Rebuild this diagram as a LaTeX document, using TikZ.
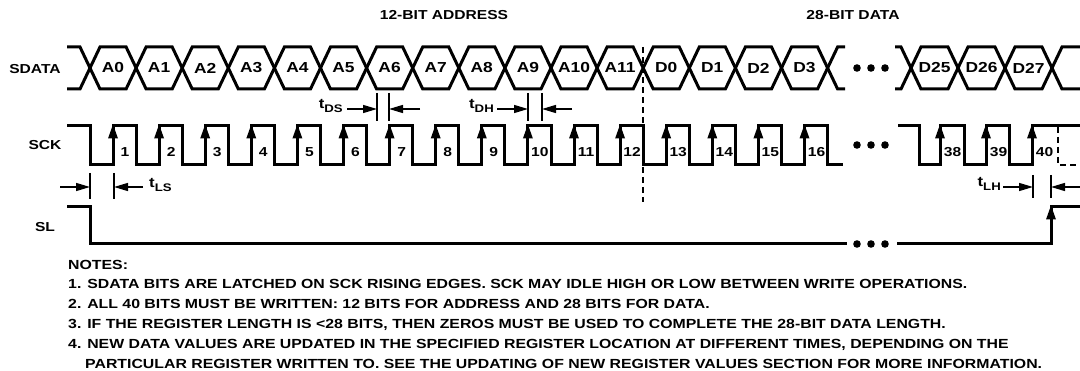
\documentclass[tikz,border=0pt]{standalone}
\usepackage{fontspec}
\setmainfont[FakeStretch=1.2]{Liberation Sans}
\usetikzlibrary{arrows.meta}
\tikzset{
  sig/.style={line width=3pt},
  tickline/.style={line width=1.3pt},
  dimarrow/.style={line width=1.3pt,-{Triangle[length=14pt,width=8pt]}},
  lbl/.style={font=\fontsize{13}{13}\selectfont\bfseries, inner sep=0pt},
  tlbl/.style={font=\fontsize{14}{14}\selectfont\bfseries, inner sep=0pt},
  bit/.style={font=\fontsize{14.5}{14.5}\selectfont\bfseries, inner sep=0pt},
  num/.style={font=\fontsize{13}{13}\selectfont\bfseries, inner sep=0pt},
  note/.style={font=\fontsize{13.2}{13.2}\selectfont\bfseries, inner sep=0pt, anchor=base west},
  blob/.style={fill=black},
  dashline/.style={line width=1.3pt, dash pattern=on 6pt off 4pt}
}
\newcommand\tsub[1]{t\raisebox{-4pt}{\fontsize{11}{11}\selectfont #1}}
\begin{document}
\begin{tikzpicture}[x=1pt,y=-1pt]
\useasboundingbox (0,0) rectangle (1080,371);

% headers and signal names
\node[lbl] (tA) at (444,15) {12-BIT ADDRESS};
\node[lbl] (tD) at (853,15) {28-BIT DATA};
\node[lbl] (lSDATA) at (35,69) {SDATA};
\node[lbl] (lSCK) at (45,145) {SCK};
\node[lbl] (lSL) at (45,227) {SL};

% SDATA, first part
\draw[sig] (67,47) \foreach \k in {0,...,16}{ -- ({80+46.1*\k},{isodd(\k)?89:47}) -- ({100+46.1*\k},{isodd(\k)?47:89}) } -- (845,89);
\draw[sig] (67,89) \foreach \k in {0,...,16}{ -- ({80+46.1*\k},{isodd(\k)?47:89}) -- ({100+46.1*\k},{isodd(\k)?89:47}) } -- (845,47);
% SDATA, last part
\draw[sig] (895,47) \foreach \j in {0,...,3}{ -- ({901+47*\j},{isodd(\j)?89:47}) -- ({921+47*\j},{isodd(\j)?47:89}) } -- (1080,47);
\draw[sig] (895,89) \foreach \j in {0,...,3}{ -- ({901+47*\j},{isodd(\j)?47:89}) -- ({921+47*\j},{isodd(\j)?89:47}) } -- (1080,89);

\foreach \t [count=\i from 0] in {A0,A1,A2,A3,A4,A5,A6,A7,A8,A9,A10,A11,D0,D1,D2,D3}
  \node[bit] (b\i) at ({113+46.1*\i},68) {\t};
\foreach \t [count=\i from 0] in {D25,D26,D27}
  \node[bit] (c\i) at ({934.5+47*\i},68) {\t};

% SCK, first part
\draw[sig] (67,126) \foreach \k in {0,...,15}{ -- ({90+46.1*\k},126) -- ({90+46.1*\k},165) -- ({113+46.1*\k},165) -- ({113+46.1*\k},126) } -- (827.6,126) -- (827.6,165) -- (843,165);
\foreach \k [evaluate=\k as \n using int(\k+1)] in {0,...,15}{
  \fill ({113+46.1*\k},124.5) -- ++(-5,14) -- ++(10,0) -- cycle;
  \node[num] (n\n) at ({125+46.1*\k},152) {\n};
}
% SCK, last part
\draw[sig] (898,126) -- (919,126) -- (919,165) -- (940,165) -- (940,126) -- (964,126) -- (964,165) -- (986,165) -- (986,126) -- (1009,126) -- (1009,165) -- (1032,165) -- (1032,126) -- (1080,126);
\draw[dashline] (1058,127) -- (1058,165) -- (1080,165);
\foreach \x/\n in {940/38,986/39,1032/40}{
  \fill (\x,124.5) -- ++(-5,14) -- ++(10,0) -- cycle;
  \node[num] (n\n) at (\x+12.5,152) {\n};
}

% SL
\draw[sig] (67,207) -- (90,207) -- (90,244) -- (847,244);
\draw[sig] (897,244) -- (1051,244) -- (1051,207) -- (1080,207);
\fill (1051,205.5) -- ++(-5,14) -- ++(10,0) -- cycle;

% ellipsis dots
\foreach \y in {68,145,244}
  \foreach \x in {857,871,885}
    \fill[blob] (\x,\y) circle (3.8);

% boundary between address and data
\coordinate (bt) at (643,47);
\coordinate (bb) at (643,202);
\draw[dashline] (bt) -- (bb);

% tDS
\draw[tickline] (377,93) -- (377,121);
\draw[tickline] (389,93) -- (389,121);
\draw[dimarrow] (347,109) -- (377,109);
\draw[dimarrow] (420,109) -- (389,109);
\node[tlbl, anchor=east] (tDS) at (343,106) {\tsub{DS}};
% tDH
\draw[tickline] (528,93) -- (528,121);
\draw[tickline] (542,93) -- (542,121);
\draw[dimarrow] (497,109) -- (528,109);
\draw[dimarrow] (572,109) -- (542,109);
\node[tlbl, anchor=east] (tDH) at (494,106) {\tsub{DH}};
% tLS
\draw[tickline] (90,173) -- (90,199);
\draw[tickline] (114,173) -- (114,199);
\draw[dimarrow] (60,187) -- (90,187);
\draw[dimarrow] (143,187) -- (114,187);
\node[tlbl, anchor=west] (tLS) at (149,185) {\tsub{LS}};
% tLH
\draw[tickline] (1033,175) -- (1033,198);
\draw[tickline] (1051,175) -- (1051,198);
\draw[dimarrow] (1003,187) -- (1033,187);
\draw[dimarrow] (1080,187) -- (1051,187);
\node[tlbl, anchor=east] (tLH) at (1001,184) {\tsub{LH}};

% notes
\node[note] (nt0) at (68,269.5) {NOTES:};
\node[note] (nt1) at (68,288.5) {1. SDATA BITS ARE LATCHED ON SCK RISING EDGES. SCK MAY IDLE HIGH OR LOW BETWEEN WRITE OPERATIONS.};
\node[note] (nt2) at (68,308.5) {2. ALL 40 BITS MUST BE WRITTEN: 12 BITS FOR ADDRESS AND 28 BITS FOR DATA.};
\node[note] (nt3) at (68,328.5) {3. IF THE REGISTER LENGTH IS <28 BITS, THEN ZEROS MUST BE USED TO COMPLETE THE 28-BIT DATA LENGTH.};
\node[note] (nt4) at (68,349) {4. NEW DATA VALUES ARE UPDATED IN THE SPECIFIED REGISTER LOCATION AT DIFFERENT TIMES, DEPENDING ON THE};
\node[note] (nt5) at (85,368.5) {PARTICULAR REGISTER WRITTEN TO. SEE THE UPDATING OF NEW REGISTER VALUES SECTION FOR MORE INFORMATION.};
\end{tikzpicture}
\end{document}
